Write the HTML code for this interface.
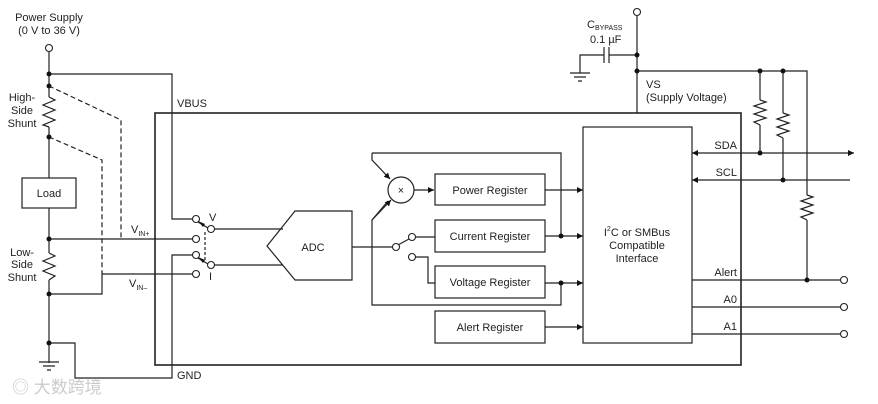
<!DOCTYPE html>
<html><head><meta charset="utf-8"><style>
body{margin:0;background:#fff}
svg{display:block}
text{font-family:"Liberation Sans",Arial,sans-serif;font-size:11px;fill:#222}
</style></head><body>
<svg width="878" height="404" viewBox="0 0 878 404" xmlns="http://www.w3.org/2000/svg">
<defs>
<marker id="a" viewBox="0 0 10 10" refX="10" refY="5" markerWidth="9" markerHeight="6" orient="auto" markerUnits="userSpaceOnUse"><path d="M0,0L10,5L0,10z" fill="#111"/></marker>
</defs>
<g stroke="#222" stroke-width="1.2" fill="none">
<!-- main box -->
<rect x="155" y="113" width="586" height="252" stroke-width="1.6"/>
<!-- left supply chain -->
<path d="M49,52V97 M49,127V178 M49,208V253 M49,280V363"/>
<path d="M49,97l6,3l-12,5l12,5l-12,5l12,5l-12,5l6,2"/>
<path d="M49,253l6,3l-12,5l12,5l-12,5l12,5l-6,4"/>
<rect x="22" y="178" width="54" height="30"/>
<path d="M39,362h20 M43,366h12 M47,370h4"/>
<!-- VBUS -->
<path d="M49,74H172V219H193"/>
<!-- dashed -->
<path d="M49,86L121,120V239 M49,137L102,160V274" stroke-dasharray="5,3"/>
<path d="M205,232V262" stroke-dasharray="3,2"/>
<!-- VIN -->
<path d="M49,239H193 M102,274H193 M49,294H102V274"/>
<!-- GND -->
<path d="M49,343H75V378H172V255H193"/>
<!-- switches -->
<path d="M198,222L208,228 M198,258L208,264"/>
<path d="M214,229H283 M214,265H283"/>
<!-- ADC -->
<path d="M267,246L295,211H352V280H295Z"/>
<path d="M352,247H393"/>
<path d="M398,245L409,239 M415,237H435 M415,257H428V283H435"/>
<!-- registers -->
<rect x="435" y="174" width="110" height="31"/>
<rect x="435" y="220" width="110" height="32"/>
<rect x="435" y="266" width="110" height="32"/>
<rect x="435" y="311" width="110" height="32"/>
<circle cx="401" cy="190" r="13"/>
<path d="M414,190H434" marker-end="url(#a)"/>
<path d="M372,153H561V236 M561,283V305H372V220L388,201" />
<path d="M372,153V160L390,179" marker-end="url(#a)"/>
<path d="M372,220L391,200" marker-end="url(#a)"/>
<path d="M545,190H583" marker-end="url(#a)"/>
<path d="M545,236H583" marker-end="url(#a)"/>
<path d="M545,283H583" marker-end="url(#a)"/>
<path d="M545,327H583" marker-end="url(#a)"/>
<!-- I2C -->
<rect x="583" y="127" width="109" height="216"/>
<!-- VS -->
<path d="M637,15V113 M637,55H609 M604,55H580V73 M609,47V63 M604,47V63"/>
<path d="M570,73h20 M574,77h12 M578,81h4"/>
<path d="M637,71H807V195 M807,220V280"/>
<path d="M760,71V100 M760,125V153 M783,71V113 M783,138V180"/>
<path d="M760,100l6,2l-12,4l12,4l-12,4l12,4l-12,4l6,3"/>
<path d="M783,113l6,2l-12,4l12,4l-12,4l12,4l-12,4l6,3"/>
<path d="M807,195l6,2l-12,4l12,4l-12,4l12,4l-12,4l6,3"/>
<path d="M760,153H692" marker-end="url(#a)"/>
<path d="M760,153H854" marker-end="url(#a)"/>
<path d="M850,180H692" marker-end="url(#a)"/>
<path d="M692,280H840 M692,307H840 M692,334H840"/>
</g>
<g fill="#fff" stroke="#222" stroke-width="1.1">
<circle cx="49" cy="48" r="3.5"/>
<circle cx="196" cy="219" r="3.5"/><circle cx="196" cy="239" r="3.5"/>
<circle cx="211" cy="229" r="3.5"/>
<circle cx="196" cy="255" r="3.5"/><circle cx="196" cy="274" r="3.5"/>
<circle cx="211" cy="265" r="3.5"/>
<circle cx="396" cy="247" r="3.5"/><circle cx="412" cy="237" r="3.5"/><circle cx="412" cy="257" r="3.5"/>
<circle cx="637" cy="12" r="3.5"/>
<circle cx="844" cy="280" r="3.5"/><circle cx="844" cy="307" r="3.5"/><circle cx="844" cy="334" r="3.5"/>
</g>
<g fill="#111">
<circle cx="49" cy="74" r="2.5"/><circle cx="49" cy="86" r="2.5"/><circle cx="49" cy="137" r="2.5"/>
<circle cx="49" cy="239" r="2.5"/><circle cx="49" cy="294" r="2.5"/><circle cx="49" cy="343" r="2.5"/>
<circle cx="561" cy="236" r="2.5"/><circle cx="561" cy="283" r="2.5"/>
<circle cx="637" cy="55" r="2.5"/><circle cx="637" cy="71" r="2.5"/>
<circle cx="760" cy="71" r="2.5"/><circle cx="783" cy="71" r="2.5"/>
<circle cx="760" cy="153" r="2.5"/><circle cx="783" cy="180" r="2.5"/><circle cx="807" cy="280" r="2.5"/>
<path d="M198,221l7,3l-2,3z M198,257l7,3l-2,3z"/>
</g>
<text x="49" y="21" text-anchor="middle">Power Supply</text>
<text x="49" y="34" text-anchor="middle">(0 V to 36 V)</text>
<text x="22" y="101" text-anchor="middle">High-</text>
<text x="22" y="114" text-anchor="middle">Side</text>
<text x="22" y="127" text-anchor="middle">Shunt</text>
<text x="22" y="256" text-anchor="middle">Low-</text>
<text x="22" y="268" text-anchor="middle">Side</text>
<text x="22" y="281" text-anchor="middle">Shunt</text>
<text x="49" y="197" text-anchor="middle">Load</text>
<text x="177" y="107">VBUS</text>
<text x="177" y="379">GND</text>
<text x="131" y="233">V<tspan font-size="7" dy="3">IN+</tspan></text>
<text x="129" y="287">V<tspan font-size="7" dy="3">IN–</tspan></text>
<text x="209" y="221">V</text>
<text x="209" y="280">I</text>
<text x="313" y="251" text-anchor="middle">ADC</text>
<text x="401" y="194" text-anchor="middle" font-size="10">×</text>
<text x="490" y="194" text-anchor="middle">Power Register</text>
<text x="490" y="240" text-anchor="middle">Current Register</text>
<text x="490" y="286" text-anchor="middle">Voltage Register</text>
<text x="490" y="331" text-anchor="middle">Alert Register</text>
<text x="637" y="236" text-anchor="middle">I<tspan font-size="7" dy="-5">2</tspan><tspan dy="5">C or SMBus</tspan></text>
<text x="637" y="249" text-anchor="middle">Compatible</text>
<text x="637" y="262" text-anchor="middle">Interface</text>
<text x="587" y="28">C<tspan font-size="7" dy="2">BYPASS</tspan></text>
<text x="590" y="43">0.1 µF</text>
<text x="646" y="88">VS</text>
<text x="646" y="101">(Supply Voltage)</text>
<text x="737" y="149" text-anchor="end">SDA</text>
<text x="737" y="176" text-anchor="end">SCL</text>
<text x="737" y="276" text-anchor="end">Alert</text>
<text x="737" y="303" text-anchor="end">A0</text>
<text x="737" y="330" text-anchor="end">A1</text>
<text x="12" y="393" style="font-family:'Liberation Sans','Noto Sans CJK SC',sans-serif;font-size:17px;fill:#ccc">◎ 大数跨境</text>
</svg>
</body></html>
